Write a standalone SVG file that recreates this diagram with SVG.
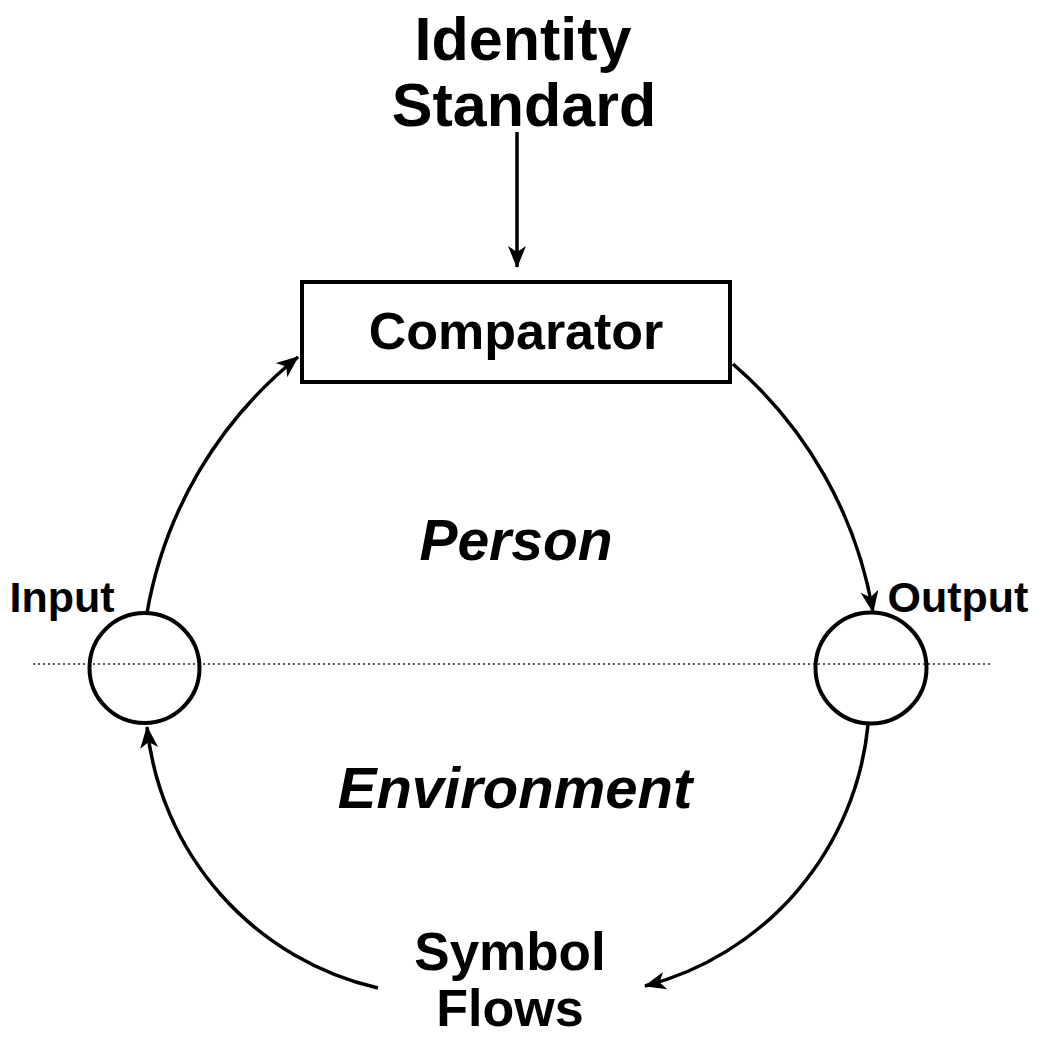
<svg xmlns="http://www.w3.org/2000/svg" width="1042" height="1037" viewBox="0 0 1042 1037">
  <style>
    .t { font-family: "Liberation Sans", Arial, sans-serif; font-weight: bold; fill: #000; text-anchor: middle; }
    .it { font-style: italic; }
    .edge { fill: none; stroke: #000; stroke-width: 3.5; }
    .node { fill: none; stroke: #000; stroke-width: 4; }
    .divider { stroke: #222; stroke-width: 1.5; stroke-dasharray: 2 3; }
  </style>
  <defs>
    <marker id="arrow" markerUnits="userSpaceOnUse" markerWidth="24" markerHeight="20" refX="21" refY="9" orient="auto">
      <path d="M0,0 L22,9 L0,18 L6,9 Z" fill="#000"/>
    </marker>
  </defs>
  <rect width="1042" height="1037" fill="#fff"/>

  <line class="divider" x1="33" y1="664" x2="993" y2="664"/>

  <g id="identity-standard">
    <text class="t" x="523" y="60" font-size="61">Identity</text>
    <text class="t" x="524" y="126" font-size="61">Standard</text>
  </g>

  <g id="comparator">
    <rect class="node" x="302" y="282" width="428" height="100"/>
    <text class="t" x="516" y="349" font-size="52">Comparator</text>
  </g>

  <g id="input">
    <circle class="node" cx="144.5" cy="668" r="55"/>
    <text class="t" x="62" y="612" font-size="43">Input</text>
  </g>

  <g id="output">
    <circle class="node" cx="871" cy="668" r="55.5"/>
    <text class="t" x="958" y="612" font-size="43">Output</text>
  </g>

  <g id="person">
    <text class="t it" x="516" y="560" font-size="57">Person</text>
  </g>

  <g id="environment">
    <text class="t it" x="515" y="808" font-size="58">Environment</text>
  </g>

  <g id="symbol-flows">
    <text class="t" x="510" y="970" font-size="53">Symbol</text>
    <text class="t" x="510" y="1026" font-size="52">Flows</text>
  </g>

  <g id="connectors">
    <line class="edge" x1="517" y1="132" x2="517" y2="267" marker-end="url(#arrow)"/>
    <path class="edge" d="M147,613 A420,420 0 0 1 298,357" marker-end="url(#arrow)"/>
    <path class="edge" d="M733,364 A420,420 0 0 1 873,612" marker-end="url(#arrow)"/>
    <path class="edge" d="M868,725 A300,300 0 0 1 645,986" marker-end="url(#arrow)"/>
    <path class="edge" d="M378,988 A300,300 0 0 1 147,727" marker-end="url(#arrow)"/>
  </g>
</svg>
